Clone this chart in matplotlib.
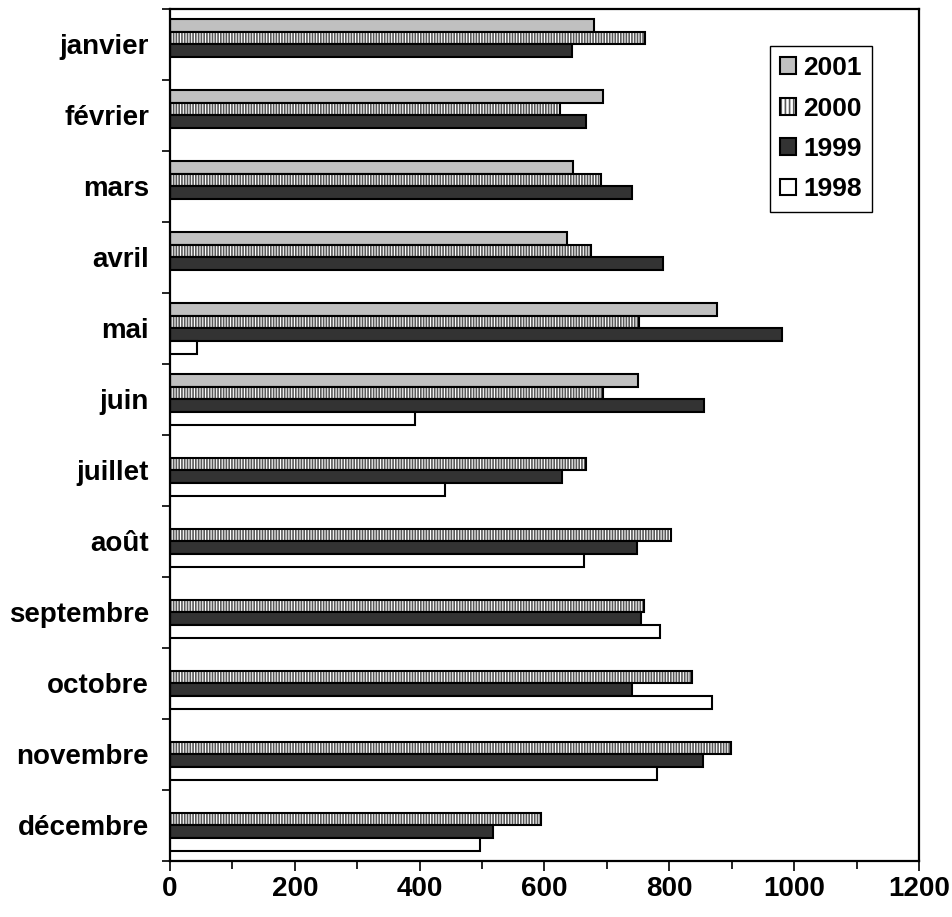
import numpy as np
import matplotlib
matplotlib.use("Agg")
import matplotlib.pyplot as plt
from matplotlib.patches import Patch
from matplotlib.ticker import MultipleLocator

plt.rcParams["font.family"] = ["Liberation Sans", "DejaVu Sans"]
plt.rcParams["font.weight"] = "bold"
plt.rcParams["hatch.linewidth"] = 1.2

months = ["janvier", "février", "mars", "avril", "mai", "juin", "juillet",
          "août", "septembre", "octobre", "novembre", "décembre"]
nan = np.nan
v2001 = [680, 694, 645, 636, 877, 750, nan, nan, nan, nan, nan, nan]
v2000 = [761, 625, 690, 675, 752, 694, 667, 803, 759, 837, 899, 595]
v1999 = [644, 667, 740, 790, 981, 855, 628, 749, 755, 741, 854, 517]
v1998 = [nan, nan, nan, nan, 43, 392, 441, 664, 785, 869, 780, 497]

fig = plt.figure(figsize=(9.53, 9.17), dpi=100)
ax = fig.add_axes([0.1784, 0.0611, 0.9643 - 0.1784, 0.9902 - 0.0611])

y = np.arange(len(months)) + 0.5
h = 0.18
edge = dict(edgecolor="black", linewidth=1.5)
stripe = "#5a5a5a"

ax.barh(y - 1.5 * h, v2001, height=h, color="#c0c0c0", **edge)
# striped series: hatch first, then the black outline on top
ax.barh(y - 0.5 * h, v2000, height=h, color="white", edgecolor=stripe,
        hatch="||||||", linewidth=0)
ax.barh(y - 0.5 * h, v2000, height=h, fill=False, **edge)
ax.barh(y + 0.5 * h, v1999, height=h, color="#333333", **edge)
ax.barh(y + 1.5 * h, v1998, height=h, color="white", **edge)

ax.set_xlim(0, 1200)
ax.set_ylim(12, 0)
ax.xaxis.set_major_locator(MultipleLocator(200))
ax.xaxis.set_minor_locator(MultipleLocator(100))
ax.set_yticks(y)
ax.set_yticklabels(months)
ax.set_yticks(np.arange(0, 13), minor=True)

ax.tick_params(axis="y", which="major", length=0, pad=15, labelsize=20)
ax.tick_params(axis="y", which="minor", length=6, width=1.2, direction="out")
ax.tick_params(axis="x", which="major", length=7, width=1.2, pad=4, labelsize=20)
ax.tick_params(axis="x", which="minor", length=6, width=1.2)
for s in ax.spines.values():
    s.set_linewidth(1.6)

h2000 = (Patch(facecolor="white", edgecolor=stripe, hatch="||||", linewidth=0),
         Patch(fill=False, edgecolor="black", linewidth=1.5))
handles = [
    Patch(facecolor="#c0c0c0", edgecolor="black", linewidth=1.5),
    h2000,
    Patch(facecolor="#333333", edgecolor="black", linewidth=1.5),
    Patch(facecolor="white", edgecolor="black", linewidth=1.5),
]
leg = ax.legend(handles, ["2001", "2000", "1999", "1998"],
                loc="upper left", bbox_to_anchor=(0.801, 0.957),
                fontsize=19, handlelength=0.6, handleheight=0.6,
                handletextpad=0.25, labelspacing=0.62, borderpad=0.4,
                borderaxespad=0, fancybox=False, framealpha=1, edgecolor="black")
leg.get_frame().set_linewidth(1.0)

fig.savefig("out.png", dpi=100)
